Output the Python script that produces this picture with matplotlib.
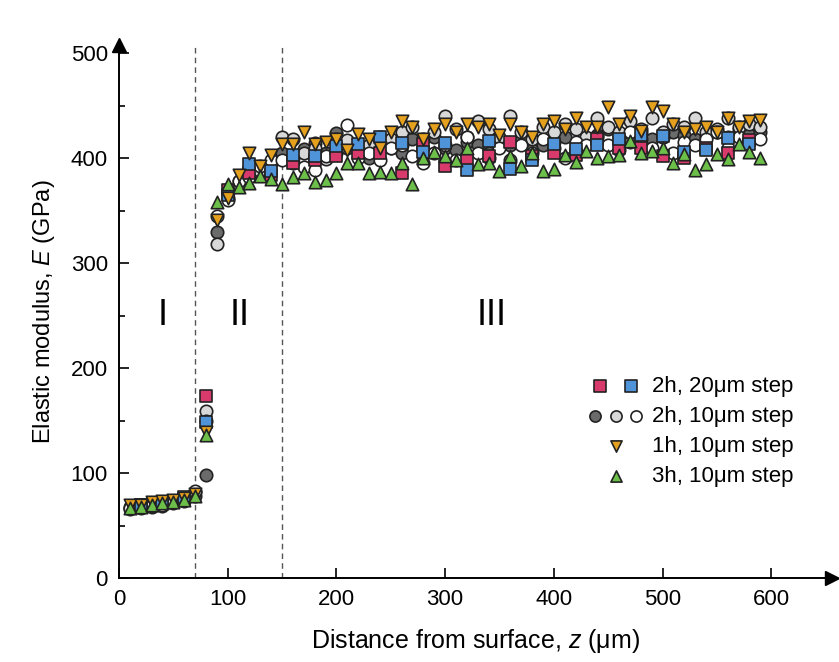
import numpy as np
import matplotlib
matplotlib.use("Agg")
import matplotlib.pyplot as plt
from matplotlib.legend_handler import HandlerTuple

plt.rcParams['font.family'] = ['Liberation Sans', 'DejaVu Sans']
plt.rcParams['mathtext.fontset'] = 'custom'
plt.rcParams['mathtext.it'] = 'Liberation Sans:italic'
plt.rcParams['mathtext.rm'] = 'Liberation Sans'

# 2h, 20um step (two runs, squares)
z_sq = [20, 40, 60, 80, 100, 120, 140, 160, 180, 200, 220, 240, 260, 280, 300,
        320, 340, 360, 380, 400, 420, 440, 460, 480, 500, 520, 540, 560, 580]
E_pink = [70, 71, 75, 173, 370, 386, 384, 395, 398, 402, 405, 405, 386, 413, 392,
          398, 402, 415, 402, 405, 403, 418, 410, 410, 402, 400, 410, 405, 417]
E_blue = [70, 71, 77, 149, 365, 394, 388, 403, 402, 411, 413, 420, 414, 406, 414,
          389, 416, 390, 398, 413, 409, 412, 418, 422, 421, 406, 408, 419, 413]

# 10um step positions
z_10 = list(range(10, 600, 10))

# 2h, 10um step (three runs, circles)
E_dark = [66, 67, 68, 69, 71, 73, 78, 98, 330, 368, 378, 385, 390, 395, 405, 400,
          409, 414, 405, 424, 410, 412, 400, 415, 410, 405, 418, 408, 420, 410,
          408, 415, 412, 405, 415, 412, 418, 408, 412, 415, 420, 410, 418, 422,
          428, 420, 415, 425, 418, 420, 425, 422, 418, 420, 425, 420, 428, 422, 425]
E_light = [68, 69, 70, 71, 73, 75, 82, 159, 318, 362, 373, 384, 388, 396, 420, 418,
           405, 410, 399, 418, 417, 410, 412, 420, 418, 425, 430, 418, 425, 440,
           428, 420, 435, 428, 420, 440, 425, 418, 430, 425, 432, 428, 420, 438,
           430, 425, 435, 428, 438, 425, 432, 430, 438, 425, 428, 438, 430, 432, 430]
E_white = [67, 68, 69, 70, 72, 74, 83, 150, 345, 360, 378, 382, 392, 398, 398, 395,
           391, 389, 402, 405, 431, 400, 405, 398, 410, 412, 402, 395, 405, 412,
           398, 420, 405, 400, 410, 398, 412, 405, 418, 410, 400, 415, 412, 420,
           412, 408, 425, 418, 410, 420, 405, 415, 412, 418, 425, 410, 420, 415, 418]

# 1h, 10um step
E_orange = [70, 70, 72, 73, 74, 76, 80, 139, 341, 362, 384, 405, 392, 403, 413, 413,
            425, 413, 415, 418, 408, 423, 418, 410, 425, 435, 430, 418, 428, 432,
            425, 432, 430, 432, 422, 432, 425, 420, 432, 435, 428, 438, 430, 430,
            449, 432, 440, 426, 449, 445, 432, 425, 428, 430, 425, 438, 430, 435, 436]

# 3h, 10um step
E_green = [67, 68, 70, 71, 72, 74, 78, 136, 358, 375, 372, 376, 383, 380, 375, 382,
           386, 377, 379, 386, 395, 395, 386, 387, 386, 395, 375, 400, 406, 402,
           398, 410, 394, 395, 388, 402, 392, 405, 388, 390, 403, 396, 407, 400,
           402, 403, 416, 405, 407, 410, 395, 404, 389, 394, 404, 399, 413, 406, 400]

region_labels = ['I', 'II', 'III']
region_x = [40, 111, 343]
boundaries = [70, 150]

fig = plt.figure(figsize=(8.39, 6.62), dpi=100)
ax = fig.add_axes([119 / 839, 84 / 662, (832 - 119) / 839, (578 - 45) / 662])

ec = '#222222'
ms = 80
lw = 1.2
s_pink = ax.scatter(z_sq, E_pink, s=ms, marker='s', c='#d83a6c', edgecolors=ec, linewidths=lw, zorder=3)
s_blue = ax.scatter(z_sq, E_blue, s=ms, marker='s', c='#4f93d8', edgecolors=ec, linewidths=lw, zorder=3)
c_dark = ax.scatter(z_10, E_dark, s=ms, marker='o', c='#6b6b6b', edgecolors=ec, linewidths=lw, zorder=2)
c_light = ax.scatter(z_10, E_light, s=ms, marker='o', c='#d8d8d8', edgecolors=ec, linewidths=lw, zorder=2)
c_white = ax.scatter(z_10, E_white, s=ms, marker='o', c='white', edgecolors=ec, linewidths=lw, zorder=2)
t_orange = ax.scatter(z_10, E_orange, s=ms, marker='v', c='#e5a11e', edgecolors=ec, linewidths=lw, zorder=4)
t_green = ax.scatter(z_10, E_green, s=ms, marker='^', c='#6cc04a', edgecolors=ec, linewidths=lw, zorder=4)

for b in boundaries:
    ax.axvline(b, color='#555555', lw=1.0, ls=(0, (4, 3)), zorder=1)

for lab, xx in zip(region_labels, region_x):
    ax.text(xx, 250, lab, fontsize=26, ha='center', va='center')

ax.set_xlim(0, (832 - 119) / 1.087)
ax.set_ylim(0, (578 - 45) / 1.05)
ax.set_xticks(range(0, 700, 100))
ax.set_yticks(range(0, 600, 100))
ax.set_yticks(range(50, 500, 100), minor=True)
ax.tick_params(direction='in', length=7, width=1.2, labelsize=16, pad=8)
ax.tick_params(which='minor', direction='in', length=4, width=1.2)
for sp in ['top', 'right']:
    ax.spines[sp].set_visible(False)
for sp in ['left', 'bottom']:
    ax.spines[sp].set_linewidth(1.4)
ax.plot(1, 0, '>k', ms=10, transform=ax.transAxes, clip_on=False)
ax.plot(0, 1, '^k', ms=10, transform=ax.transAxes, clip_on=False)

ax.set_xlabel('Distance from surface, $z$ (\u03bcm)', fontsize=18, labelpad=12)
ax.set_ylabel('Elastic modulus, $E$ (GPa)', fontsize=17, labelpad=10)

ax.legend([(s_pink, s_blue), (c_dark, c_light, c_white), t_orange, t_green],
          ['2h, 20\u03bcm step', '2h, 10\u03bcm step', '1h, 10\u03bcm step', '3h, 10\u03bcm step'],
          handler_map={tuple: HandlerTuple(ndivide=None, pad=0.5)},
          loc='center left', bbox_to_anchor=(0.645, 0.275), frameon=False,
          fontsize=16, handlelength=2.3, handletextpad=0.5, labelspacing=0.4,
          markerscale=0.9, borderpad=0)

fig.savefig('out.png', dpi=100)
